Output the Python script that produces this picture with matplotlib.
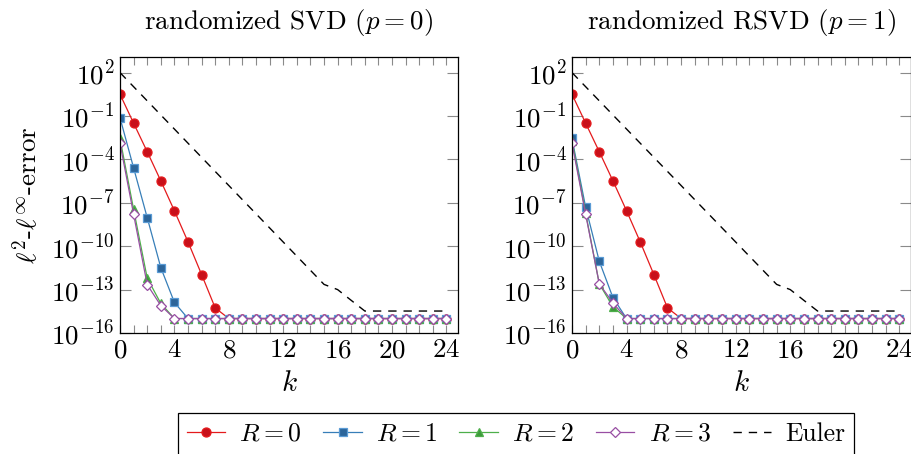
import matplotlib

matplotlib.use("Agg")
import matplotlib.pyplot as plt
from matplotlib.ticker import FixedLocator, LogFormatterMathtext, NullLocator

plt.rcParams["font.family"] = ["cmr10"]
plt.rcParams["mathtext.fontset"] = "cm"
plt.rcParams["axes.formatter.use_mathtext"] = True

# --- data -------------------------------------------------------------------
k = list(range(25))

svd_r0 = [3.2e0, 3.2e-2, 3.4e-4, 3.3e-6, 2.8e-8, 2.0e-10, 1.1e-12, 5.4e-15] + [1e-15] * 17
svd_r1 = [7.6e-2, 2.6e-5, 9.5e-9, 3.3e-12, 1.3e-14] + [1e-15] * 20
svd_r2 = [2.8e-3, 3.5e-8, 6.3e-13, 1.1e-14] + [1e-15] * 21
svd_r3 = [1.3e-3, 1.6e-8, 2.2e-13, 7.9e-15] + [1e-15] * 21

rsvd_r0 = [3.2e0, 3.2e-2, 3.4e-4, 3.3e-6, 2.8e-8, 2.0e-10, 1.1e-12, 5.4e-15] + [1e-15] * 17
rsvd_r1 = [2.8e-3, 5.0e-8, 9.1e-12, 2.8e-14] + [1e-15] * 21
rsvd_r2 = [2.0e-3, 2.0e-8, 2.5e-13, 6.5e-15] + [1e-15] * 21
rsvd_r3 = [1.3e-3, 1.6e-8, 2.5e-13, 1.2e-14] + [1e-15] * 21

euler = [1.0e2, 1.06e1, 1.12e0, 1.18e-1, 1.25e-2, 1.32e-3, 1.39e-4, 1.47e-5,
         1.56e-6, 1.64e-7, 1.74e-8, 1.84e-9, 1.94e-10, 2.05e-11, 2.17e-12,
         2.29e-13, 1.0e-13, 1.8e-14, 3.3e-15, 3.3e-15, 3.3e-15, 3.3e-15,
         3.3e-15, 3.3e-15, 3.3e-15]

titles = [r"randomized SVD ($p=0$)", r"randomized RSVD ($p=1$)"]
labels = [r"$R=0$", r"$R=1$", r"$R=2$", r"$R=3$", "Euler"]

# line color, marker, marker face, marker edge, marker size
styles = [
    ("#e41a1c", "o", "#c8101a", "#e41a1c", 6.5),
    ("#377eb8", "s", "#2c659a", "#5a9bd5", 6.4),
    ("#4daf4a", "^", "#3d9a3b", "#4daf4a", 5.5),
    ("#984ea3", "D", "white", "#984ea3", 4.6),
]

W, H = 912, 454
fig = plt.figure(figsize=(W / 100, H / 100), dpi=100)
ax_l = fig.add_axes([120 / W, 1 - 333 / H, 338 / W, 276 / H])
ax_r = fig.add_axes([572 / W, 1 - 333 / H, 339 / W, 276 / H])

panels = [
    (ax_l, [svd_r0, svd_r1, svd_r2, svd_r3]),
    (ax_r, [rsvd_r0, rsvd_r1, rsvd_r2, rsvd_r3]),
]

for i, (ax, series) in enumerate(panels):
    for ys, (c, m, fc, ec, ms), lab in zip(series, styles, labels):
        ax.plot(k, ys, color=c, lw=0.9, marker=m, ms=ms, mfc=fc, mec=ec, mew=0.9, label=lab)
    ax.plot(k, euler, color="black", lw=1.0, ls=(0, (6, 5)), label=labels[4])
    ax.set_yscale("log")
    ax.set_xlim(0, 24.85)
    ax.set_ylim(1e-16, 1.2e3)
    ax.yaxis.set_major_locator(FixedLocator([10.0 ** e for e in range(2, -17, -3)]))
    ax.yaxis.set_major_formatter(LogFormatterMathtext())
    ax.yaxis.set_minor_locator(NullLocator())
    ax.set_xticks(range(0, 25, 4))
    ax.set_xticks(range(25), minor=True)
    ax.tick_params(which="both", direction="in", top=True, right=True,
                   color="#8a8a8a", width=0.8, labelsize=19.5, pad=4)
    ax.tick_params(which="major", axis="y", length=8)
    ax.tick_params(which="both", axis="x", length=6)
    ax.set_title(titles[i], fontsize=19.5, pad=20)
    ax.set_xlabel(r"$k$", fontsize=21, labelpad=6)
    for sp in ax.spines.values():
        sp.set_linewidth(0.9)

ax_l.set_ylabel(r"$\ell^2$-$\ell^\infty$-error", fontsize=19.5, labelpad=7)

handles, hl = ax_l.get_legend_handles_labels()
leg = fig.legend(handles, hl, loc="upper center", bbox_to_anchor=(516 / W, 1 - 413 / H),
                 ncol=5, fontsize=18.5, frameon=True, fancybox=False,
                 edgecolor="black", framealpha=1, handlelength=1.5,
                 columnspacing=0.85, handletextpad=0.55, borderpad=0.35,
                 borderaxespad=0)
leg.get_frame().set_linewidth(0.9)

fig.savefig("out.png", dpi=100)
